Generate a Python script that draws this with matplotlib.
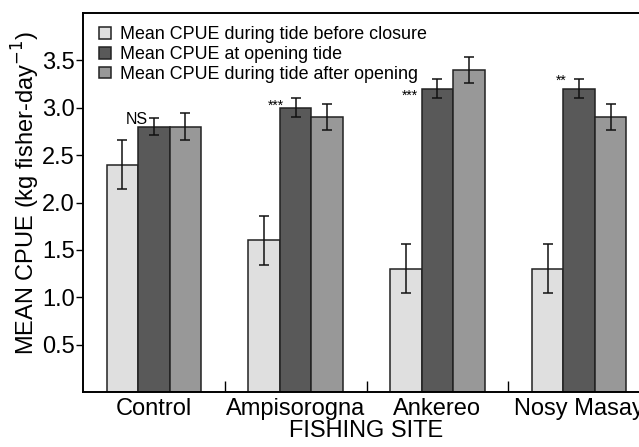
import matplotlib
matplotlib.use("Agg")
import matplotlib.pyplot as plt
import numpy as np

plt.rcParams['font.family'] = ['Liberation Sans', 'DejaVu Sans']

# data
sites = ["Control", "Ampisorogna", "Ankereo", "Nosy Masay"]
before = [2.4, 1.6, 1.3, 1.3]
before_err = [0.26, 0.26, 0.26, 0.26]
opening = [2.8, 3.0, 3.2, 3.2]
opening_err = [0.09, 0.10, 0.10, 0.10]
after = [2.8, 2.9, 3.4, 2.9]
after_err = [0.14, 0.14, 0.14, 0.14]
signif = ["NS", "***", "***", "**"]

labels = ["Mean CPUE during tide before closure",
          "Mean CPUE at opening tide",
          "Mean CPUE during tide after opening"]
colors = ["#dfdfdf", "#595959", "#989898"]

fig = plt.figure(figsize=(6.39, 4.47), dpi=100)
ax = fig.add_axes([83/639, 55/447, 567/639, 379/447])

x = np.arange(len(sites))
w = 0.222
series = [(before, before_err), (opening, opening_err), (after, after_err)]
for i, (vals, errs) in enumerate(series):
    ax.bar(x + (i - 1)*w, vals, w, color=colors[i], edgecolor="#222222",
           linewidth=1.1, label=labels[i], zorder=2)
    ax.errorbar(x + (i - 1)*w, vals, yerr=errs, fmt="none", ecolor="#111111",
                elinewidth=1.1, capsize=3.5, capthick=1.1, zorder=3)

# significance marks, left of the opening-tide error bar
ax.text(x[0] - 0.04, 2.88, signif[0], ha="right", va="center", fontsize=11.5)
ax.text(x[1] - 0.085, 3.02, signif[1], ha="right", va="center", fontsize=10)
ax.text(x[2] - 0.14, 3.13, signif[2], ha="right", va="center", fontsize=10)
ax.text(x[3] - 0.085, 3.28, signif[3], ha="right", va="center", fontsize=10)

ax.set_xlim(-0.5, 3.5)
ax.set_ylim(0, 4.0)
ax.set_yticks([0.5, 1.0, 1.5, 2.0, 2.5, 3.0, 3.5])
ax.set_xticks(x)
ax.set_xticklabels(sites)
ax.set_xticks([0.5, 1.5, 2.5], minor=True)
ax.tick_params(axis="x", which="major", length=0, pad=4, labelsize=17)
ax.tick_params(axis="x", which="minor", direction="in", length=8, width=1)
ax.tick_params(axis="y", direction="out", length=5, width=1, pad=1, labelsize=17)

for s in ax.spines.values():
    s.set_linewidth(1.4)

ax.set_ylabel("MEAN CPUE (kg fisher-day$^{-1}$)", fontsize=17, labelpad=0)
ax.yaxis.label.set_y(0.525)
ax.set_xlabel("FISHING SITE", fontsize=17, labelpad=0)

ax.legend(loc="upper left", bbox_to_anchor=(0.022, 0.975), frameon=False,
          fontsize=12.9, handlelength=0.65, handleheight=0.65,
          handletextpad=0.5, labelspacing=0.16, borderpad=0.2,
          borderaxespad=0)

fig.savefig("out.png", dpi=100)
